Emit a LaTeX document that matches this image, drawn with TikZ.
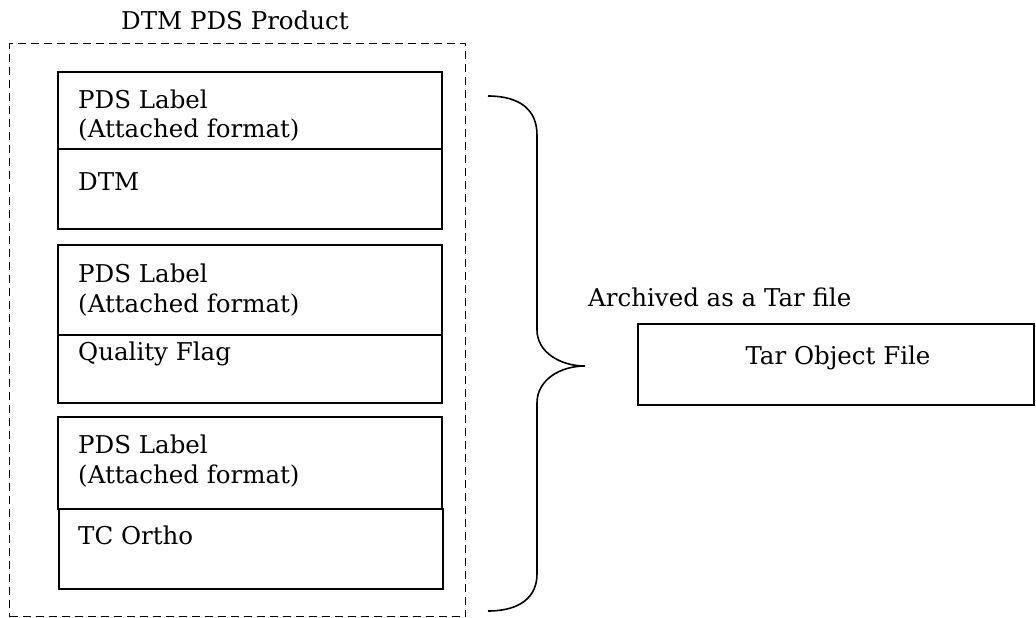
\documentclass[tikz,border=0pt]{standalone}
\usepackage{fontspec}
\setmainfont{DejaVu Serif}
\begin{document}
\begin{tikzpicture}[x=1pt,y=-1pt,
  box/.style={draw,line width=1.7pt,inner sep=0pt,anchor=north west},
  txt/.style={inner sep=0pt,anchor=base west,font=\fontsize{24.5}{30}\selectfont,align=left},
  outer/.style={draw,line width=1.4pt,dash pattern=on 8pt off 5pt,inner sep=0pt,anchor=north west}]
\useasboundingbox (0,0) rectangle (1036,618);
% outer dashed product box
\node[outer,minimum width=456pt,minimum height=573pt] (prod) at (9,43) {};
\node[txt,anchor=base] (title) at (235,30) {DTM PDS Product};
% group 1
\node[box,minimum width=384pt,minimum height=77pt] (lab1) at (57,71) {};
\node[box,minimum width=384pt,minimum height=80pt] (dat1) at (57,148) {};
\node[txt] (lt1) at (78,108) {PDS Label};
\node[txt] (la1) at (78,137) {(Attached format)};
\node[txt] (dt1) at (78,190) {DTM};
% group 2
\node[box,minimum width=384pt,minimum height=90pt] (lab2) at (57,244) {};
\node[box,minimum width=384pt,minimum height=68pt] (dat2) at (57,334) {};
\node[txt] (lt2) at (78,282) {PDS Label};
\node[txt] (la2) at (78,312) {(Attached format)};
\node[txt] (dt2) at (78,360) {Quality Flag};
% group 3
\node[box,minimum width=384pt,minimum height=92pt] (lab3) at (57,416) {};
\node[box,minimum width=384pt,minimum height=80pt] (dat3) at (58,508) {};
\node[txt] (lt3) at (78,453) {PDS Label};
\node[txt] (la3) at (78,483) {(Attached format)};
\node[txt] (dt3) at (78,544) {TC Ortho};
% brace
\coordinate (bt) at (488,96);
\coordinate (tip) at (585,366);
\coordinate (bb) at (488,611);
\draw[line width=1.6pt]
  (bt) .. controls (520,96) and (537,110) .. (537,135) -- (537,330)
  .. controls (537,352) and (560,366) .. (tip)
  .. controls (560,366) and (537,380) .. (537,403) -- (537,574)
  .. controls (537,597) and (520,611) .. (bb);
% tar
\node[txt] (arch) at (588,306) {Archived as a Tar file};
\node[box,minimum width=396pt,minimum height=81pt] (tar) at (637,323) {};
\node[txt,anchor=base] (tart) at (838,364) {Tar Object File};
\end{tikzpicture}
\end{document}
